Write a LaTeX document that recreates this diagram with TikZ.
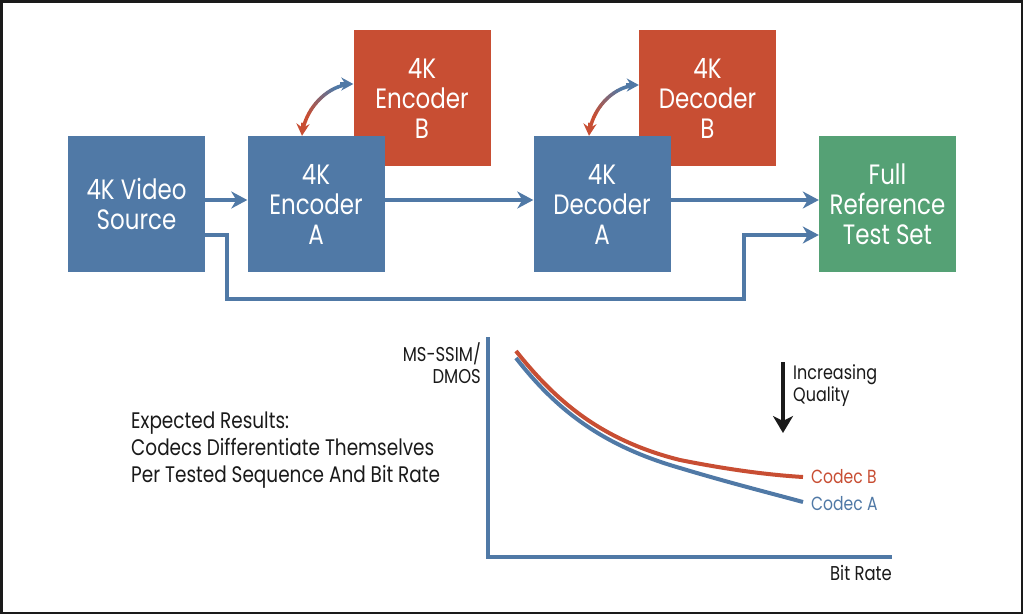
\documentclass[tikz,border=0pt]{standalone}
\usepackage{fontspec}
\setmainfont{Poppins}[FakeStretch=0.82]
\usetikzlibrary{arrows.meta,calc}
\definecolor{bboxc}{HTML}{5079A6}
\definecolor{rboxc}{HTML}{C84E33}
\definecolor{gboxc}{HTML}{55A175}
\definecolor{inkc}{HTML}{1A1A1A}
\tikzset{
  blk/.style={minimum width=137pt, minimum height=136pt, inner sep=0pt, text=white, align=center, font=\fontsize{28}{30}\selectfont},
  bluebk/.style={blk, fill=bboxc},
  redbk/.style={blk, fill=rboxc},
  greenbk/.style={blk, fill=gboxc},
  flow/.style={draw=bboxc, line width=4pt, -{Stealth[length=16pt,width=17pt,inset=5pt]}},
  swapred/.style={draw=rboxc, line width=3.5pt, {Stealth[length=12pt,width=13pt,inset=4pt]}-},
  swapblue/.style={draw=bboxc, line width=3.5pt, -{Stealth[length=12pt,width=13pt,inset=4pt]}},
  lbl/.style={font=\fontsize{19}{22}\selectfont, inner sep=0pt, text=inkc},
  curveln/.style={line width=4pt},
}
% gradient double arrow: #1 start, #2 ctrl1, #3 ctrl2, #4 end, #5 prefix
\newcommand\gradswap[5]{%
  \foreach \j in {0,...,16} {
    \pgfmathsetmacro\tt{0.1+0.05*\j}
    \coordinate (#5m01) at ($(#1)!\tt!(#2)$);
    \coordinate (#5m12) at ($(#2)!\tt!(#3)$);
    \coordinate (#5m23) at ($(#3)!\tt!(#4)$);
    \coordinate (#5m012) at ($(#5m01)!\tt!(#5m12)$);
    \coordinate (#5m123) at ($(#5m12)!\tt!(#5m23)$);
    \coordinate (#5g\j) at ($(#5m012)!\tt!(#5m123)$);
  }
  \draw[swapred] (#1) -- ($(#1)!0.5!(#2)$);
  \draw[swapblue] ($(#4)!0.5!(#3)$) -- (#4);
  \foreach \j in {0,...,15} {
    \pgfmathtruncatemacro\k{\j+1}
    \pgfmathtruncatemacro\p{max(0,min(100,(\j-3)*10))}
    \draw[bboxc!\p!rboxc, line width=3.5pt, line cap=round] (#5g\j) -- (#5g\k);
  }
}
\begin{document}
\begin{tikzpicture}[x=1pt,y=-1pt]
\useasboundingbox (0,0) rectangle (1024,614);
\fill[white] (0,0) rectangle (1024,614);
\draw[line width=2.2pt, inkc] (1.5,1.5) rectangle (1022.3,612.6);

% blocks
\node[redbk] (encB) at (422,98) {4K\\Encoder\\B};
\node[bluebk] (encA) at (316,204) {4K\\Encoder\\A};
\node[redbk] (decB) at (707.5,98) {4K\\Decoder\\B};
\node[bluebk] (decA) at (602,204) {4K\\Decoder\\A};
\node[bluebk] (src) at (136.5,204) {4K Video\\Source};
\node[greenbk] (full) at (887.5,204) {Full\\Reference\\Test Set};

% main flow
\draw[flow] ([yshift=4pt]src.east) -- ([yshift=4pt]encA.west);
\draw[flow] ([yshift=4pt]encA.east) -- ([yshift=4pt]decA.west);
\draw[flow] ([yshift=4pt]decA.east) -- ([yshift=4pt]full.west);
\coordinate (b1) at (227,299);
\coordinate (b2) at (744,235);
\draw[flow] ([yshift=-31pt]src.east) -| (b1) -| (b2) -- ([yshift=-31pt]full.west);

% swap arrows
\coordinate (ea) at ([xshift=-14pt]encA.north);
\coordinate (eb) at ([yshift=14pt]encB.west);
\coordinate (ec1) at ([shift={(2,-26)}]ea);
\coordinate (ec2) at ([shift={(-26,0)}]eb);
\gradswap{ea}{ec1}{ec2}{eb}{E}
\coordinate (da) at ([xshift=-13pt]decA.north);
\coordinate (db) at ([yshift=13pt]decB.west);
\coordinate (dc1) at ([shift={(2,-26)}]da);
\coordinate (dc2) at ([shift={(-26,0)}]db);
\gradswap{da}{dc1}{dc2}{db}{D}

% chart
\coordinate (ytop) at (488,337);
\coordinate (orig) at (488,557);
\coordinate (xend) at (892,557);
\draw[bboxc, line width=3.5pt] (ytop) -- (orig) -- (xend);

\coordinate (cbs) at (516,351);
\coordinate (cbe) at (803,477);
\coordinate (cas) at (516,358);
\coordinate (cae) at (803,502);
\draw[curveln, rboxc] (cbs) .. controls (555,400) and (600,440) .. (680,460) .. controls (730,470) and (770,475) .. (cbe);
\draw[curveln, bboxc] (cas) .. controls (555,408) and (600,445) .. (680,468) .. controls (730,483) and (770,493) .. (cae);

\node[lbl, anchor=west, text=rboxc] (lb) at ([xshift=8pt]cbe) {Codec B};
\node[lbl, anchor=west, text=bboxc] (la) at ([xshift=8pt,yshift=-2pt]cae) {Codec A};

\node[lbl, anchor=east, align=right, font=\fontsize{20}{22}\selectfont] (ylab) at (481,363) {MS-SSIM/\\DMOS};
\node[lbl, anchor=north east, font=\fontsize{20}{22}\selectfont] (xlab) at ([yshift=-8pt]xend) {Bit Rate};

\coordinate (qa) at (783,362);
\coordinate (qb) at (783,433);
\draw[inkc, line width=4pt, -{Stealth[length=17pt,width=20pt,inset=5pt]}] (qa) -- (qb);
\node[lbl, anchor=west, align=left, font=\fontsize{19.5}{22}\selectfont] (qlab) at (793,386) {Increasing\\Quality};

\node[anchor=west, align=left, inner sep=0pt, text=inkc, font=\fontsize{22.5}{27}\selectfont] (expl) at (131,450) {Expected Results:\\Codecs Differentiate Themselves\\Per Tested Sequence And Bit Rate};
\end{tikzpicture}
\end{document}
